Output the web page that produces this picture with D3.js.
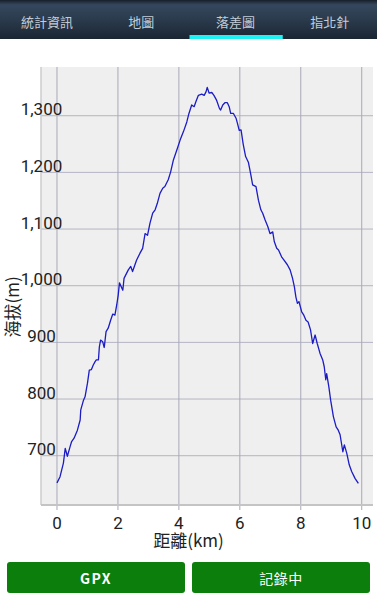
<!DOCTYPE html>
<html>
<head>
<meta charset="utf-8">
<title>落差圖</title>
<script src="https://d3js.org/d3.v7.min.js"></script>
<style>
  html, body { margin: 0; padding: 0; background: #fff; }
  svg { display: block; }
  .tab { font-family: 'Noto Sans CJK TC', 'Noto Sans', sans-serif; font-size: 13px; fill: #c3ccd6; }
  .tick-label { font-family: Roboto, sans-serif; font-size: 17px; fill: #222; }
  .axis-title { font-family: 'Noto Sans CJK TC', Roboto, sans-serif; font-size: 17px; fill: #222; }
  .btn-text { font-family: 'Noto Sans CJK TC', Roboto, sans-serif; font-size: 14px; fill: #fff; }
</style>
</head>
<body>
<svg id="chart"></svg>
<script>
// tabs across the top
var tabNames = ["統計資訊", "地圖", "落差圖", "指北針"];
var activeTab = 2;

// elevation profile: distance (km) and altitude (m)
var distKm = [0.00, 0.10, 0.21, 0.27, 0.34, 0.43, 0.48, 0.56, 0.67, 0.76, 0.78, 0.87, 0.92, 1.00,
  1.06, 1.13, 1.19, 1.25, 1.29, 1.36, 1.39, 1.43, 1.50, 1.55, 1.61, 1.68, 1.76, 1.83, 1.90, 1.96,
  2.01, 2.05, 2.16, 2.20, 2.34, 2.42, 2.48, 2.61, 2.72, 2.81, 2.89, 2.97, 3.05, 3.14, 3.22, 3.29,
  3.38, 3.47, 3.54, 3.65, 3.73, 3.82, 3.93, 4.04, 4.15, 4.26, 4.33, 4.42, 4.50, 4.56, 4.64, 4.75,
  4.83, 4.89, 4.93, 4.99, 5.08, 5.15, 5.24, 5.33, 5.37, 5.44, 5.51, 5.59, 5.65, 5.70, 5.79, 5.88,
  5.92, 5.98, 6.04, 6.11, 6.19, 6.28, 6.36, 6.42, 6.53, 6.61, 6.69, 6.75, 6.83, 6.92, 6.99, 7.08,
  7.13, 7.21, 7.27, 7.37, 7.45, 7.56, 7.65, 7.73, 7.79, 7.84, 7.89, 7.94, 8.03, 8.10, 8.17, 8.24,
  8.32, 8.39, 8.47, 8.54, 8.63, 8.72, 8.77, 8.82, 8.85, 8.92, 8.98, 9.07, 9.16, 9.23, 9.29, 9.38,
  9.43, 9.51, 9.59, 9.67, 9.78, 9.89];
var elevM = [652, 663, 687, 713, 699, 716, 725, 731, 745, 763, 781, 798, 804, 828,
  851, 852, 860, 866, 869, 869, 892, 904, 901, 891, 919, 925, 939, 950, 948, 966,
  984, 1005, 992, 1013, 1028, 1034, 1025, 1045, 1057, 1066, 1092, 1089, 1110, 1128, 1134, 1145,
  1163, 1172, 1175, 1187, 1201, 1222, 1239, 1257, 1272, 1289, 1304, 1319, 1316, 1325, 1336, 1338,
  1336, 1342, 1350, 1340, 1341, 1336, 1327, 1313, 1310, 1319, 1323, 1323, 1316, 1304, 1304, 1295,
  1287, 1274, 1275, 1250, 1228, 1218, 1196, 1178, 1175, 1151, 1134, 1128, 1116, 1104, 1092, 1095,
  1078, 1066, 1063, 1051, 1045, 1037, 1028, 1013, 998, 980, 969, 972, 954, 948, 939, 936,
  922, 898, 913, 898, 881, 869, 857, 834, 845, 822, 798, 769, 751, 745, 737, 707,
  719, 704, 684, 672, 660, 651];

var xTicks = [0, 2, 4, 6, 8, 10];
var yTicks = [700, 800, 900, 1000, 1100, 1200, 1300];
var buttonLabels = ["GPX", "記錄中"];

var W = 377, H = 600;
var plot = { left: 41, right: 373, top: 67, bottom: 505 };

var svg = d3.select("#chart").attr("width", W).attr("height", H);

/* ---- tab bar ---- */
var defs = svg.append("defs");
var grad = defs.append("linearGradient").attr("id", "tabGrad")
  .attr("x1", 0).attr("y1", 0).attr("x2", 0).attr("y2", 1);
grad.append("stop").attr("offset", "0").attr("stop-color", "#161f2a");
grad.append("stop").attr("offset", "0.12").attr("stop-color", "#34475c");
grad.append("stop").attr("offset", "0.5").attr("stop-color", "#2b3b4d");
grad.append("stop").attr("offset", "1").attr("stop-color", "#1a2532");

svg.append("rect").attr("x", 0).attr("y", 0).attr("width", W).attr("height", 39)
  .attr("fill", "url(#tabGrad)");

var tabX = d3.scaleBand().domain(d3.range(tabNames.length)).range([0, W]);
svg.selectAll("text.tab").data(tabNames).enter().append("text")
  .attr("class", "tab")
  .attr("x", function(d, i) { return tabX(i) + tabX.bandwidth() / 2; })
  .attr("y", 21)
  .attr("text-anchor", "middle")
  .attr("dominant-baseline", "central")
  .text(function(d) { return d; });
svg.append("rect")
  .attr("x", tabX(activeTab) + 1).attr("y", 35)
  .attr("width", tabX.bandwidth() - 1).attr("height", 4)
  .attr("fill", "#1ff0f2");

/* ---- chart ---- */
var xScale = d3.scaleLinear().domain([-0.525, 10.37]).range([plot.left, plot.right]);
var yScale = d3.scaleLinear().domain([613, 1386]).range([plot.bottom, plot.top]);

svg.append("rect")
  .attr("x", plot.left).attr("y", plot.top)
  .attr("width", plot.right - plot.left).attr("height", plot.bottom - plot.top)
  .attr("fill", "#efefef");

// grid
svg.append("g").selectAll("line").data(yTicks).enter().append("line")
  .attr("x1", plot.left).attr("x2", plot.right)
  .attr("y1", function(d) { return yScale(d); }).attr("y2", function(d) { return yScale(d); })
  .attr("stroke", "#b4b4c4").attr("stroke-width", 1);
svg.append("g").selectAll("line").data(xTicks).enter().append("line")
  .attr("x1", function(d) { return xScale(d); }).attr("x2", function(d) { return xScale(d); })
  .attr("y1", plot.top).attr("y2", plot.bottom + 5)
  .attr("stroke", "#a8a8b8").attr("stroke-width", 1);

// axis lines
svg.append("line").attr("x1", plot.left).attr("x2", plot.left)
  .attr("y1", plot.top).attr("y2", plot.bottom)
  .attr("stroke", "#cdcdcd").attr("stroke-width", 1.5);
svg.append("line").attr("x1", plot.left).attr("x2", plot.right)
  .attr("y1", plot.bottom).attr("y2", plot.bottom)
  .attr("stroke", "#c4c4c4").attr("stroke-width", 2);

// tick labels
var fmt = d3.format(",");
svg.append("g").selectAll("text").data(yTicks).enter().append("text")
  .attr("class", "tick-label")
  .attr("x", plot.left + 0.5)
  .attr("y", function(d) { return yScale(d) - 0.5; })
  .attr("text-anchor", "middle")
  .text(function(d) { return fmt(d); });
svg.append("g").selectAll("text").data(xTicks).enter().append("text")
  .attr("class", "tick-label")
  .attr("x", function(d) { return xScale(d); })
  .attr("y", 529)
  .attr("text-anchor", "middle")
  .text(function(d) { return d; });

// axis titles
svg.append("text").attr("class", "axis-title")
  .attr("x", W / 2).attr("y", 547)
  .attr("text-anchor", "middle")
  .text("距離(km)");
svg.append("text").attr("class", "axis-title")
  .attr("transform", "translate(19,307) rotate(-90)")
  .attr("text-anchor", "middle")
  .text("海拔(m)");

// profile line
var points = distKm.map(function(d, i) { return [d, elevM[i]]; });
var line = d3.line()
  .x(function(p) { return xScale(p[0]); })
  .y(function(p) { return yScale(p[1]); });
svg.append("path").datum(points)
  .attr("d", line)
  .attr("fill", "none")
  .attr("stroke", "#1c1cc4")
  .attr("stroke-width", 1.3)
  .attr("stroke-linejoin", "round");

/* ---- buttons ---- */
var btnLeft = [7, 192];
var btns = svg.append("g").selectAll("g").data(buttonLabels).enter().append("g");
btns.append("rect")
  .attr("x", function(d, i) { return btnLeft[i]; })
  .attr("y", 562)
  .attr("width", 178).attr("height", 31)
  .attr("rx", 3)
  .attr("fill", "#0b7e0b");
btns.append("text")
  .attr("class", "btn-text")
  .attr("x", function(d, i) { return btnLeft[i] + 89; })
  .attr("y", 578)
  .attr("text-anchor", "middle")
  .attr("dominant-baseline", "central")
  .attr("font-weight", function(d, i) { return i === 0 ? "bold" : "normal"; })
  .attr("letter-spacing", function(d, i) { return i === 0 ? "1.5px" : "0.5px"; })
  .text(function(d) { return d; });
</script>
</body>
</html>
